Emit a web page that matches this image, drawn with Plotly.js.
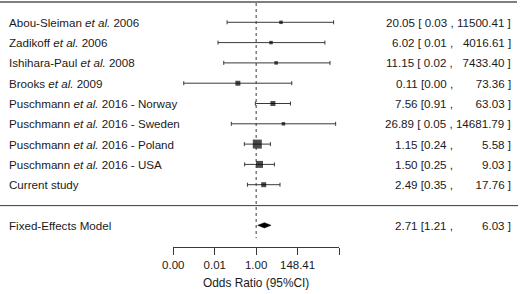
<!DOCTYPE html>
<html>
<head>
<meta charset="utf-8">
<script src="https://cdn.plot.ly/plotly-3.0.1.min.js"></script>
<style>html,body{margin:0;padding:0;background:#fff}#chart{width:520px;height:294px}</style>
</head>
<body>
<div id="chart"></div>
<script>
// ---- data ----
var studies = [
  "Abou-Sleiman <i>et al.</i> 2006",
  "Zadikoff <i>et al.</i> 2006",
  "Ishihara-Paul <i>et al.</i> 2008",
  "Brooks <i>et al.</i> 2009",
  "Puschmann <i>et al.</i> 2016 - Norway",
  "Puschmann <i>et al.</i> 2016 - Sweden",
  "Puschmann <i>et al.</i> 2016 - Poland",
  "Puschmann <i>et al.</i> 2016 - USA",
  "Current study"
];
var oddsRatio = [20.05, 6.02, 11.15, 0.11, 7.56, 26.89, 1.15, 1.50, 2.49];
var ciLower   = [0.03, 0.01, 0.02, 0.00016, 0.91, 0.05, 0.24, 0.25, 0.35];
var ciUpper   = [11500.41, 4016.61, 7433.40, 73.36, 63.03, 14681.79, 5.58, 9.03, 17.76];

var modelLabel = "Fixed-Effects Model";
var modelOR = 2.71, modelLower = 1.21, modelUpper = 6.03;

var tickValsLn = [-10, -5, 0, 5, 10];
var tickLabels = ["0.00", "0.01", "1.00", "148.41", ""];
var axisTitle = "Odds Ratio (95%CI)";

// ---- helpers ----
function fmt(v){ return v.toFixed(2); }
function rowText(est, lo, hi){
  var u = fmt(hi);
  var pad = "";
  for (var k = u.length; k < 8; k++) pad += "\u00a0\u00a0";
  var l = (hi >= 1000 ? "\u00a0" : "") + fmt(lo);
  return fmt(est) + " [" + l + "\u00a0,\u00a0" + pad + u + "\u00a0]";
}

var n = studies.length;
var ys = studies.map(function(_, i){ return -(i + 1); });
var lnOR = oddsRatio.map(Math.log);
var errPlus = oddsRatio.map(function(v, i){ return Math.log(ciUpper[i]) - Math.log(v); });
var errMinus = oddsRatio.map(function(v, i){ return Math.log(v) - Math.log(ciLower[i]); });
var sizes = [3.5, 3.5, 3.5, 5, 5, 3.5, 9, 7, 5];

var yModel = -(n + 2);
var h = 0.13;

var FONT = "Liberation Sans, Arial, Helvetica, sans-serif";
var FS = 11.6;
var TXT = "#1a1a1a";
var LINE = "#3a3a3a";

var traces = [
  {
    x: lnOR, y: ys, type: "scatter", mode: "markers",
    marker: {symbol: "square", size: 1, color: "rgba(0,0,0,0)"},
    error_x: {type: "data", symmetric: false, array: errPlus, arrayminus: errMinus,
              color: LINE, thickness: 1, width: 2},
    hoverinfo: "skip", showlegend: false
  },
  {
    x: lnOR, y: ys, type: "scatter", mode: "markers",
    marker: {symbol: "square", size: sizes, color: "#000", line: {width: 0}},
    hoverinfo: "skip", showlegend: false
  },
  {
    x: [Math.log(modelLower), Math.log(modelOR), Math.log(modelUpper), Math.log(modelOR), Math.log(modelLower)],
    y: [yModel, yModel + h, yModel, yModel - h, yModel],
    type: "scatter", mode: "lines", fill: "toself",
    fillcolor: "#000", line: {color: "#000", width: 0.5},
    hoverinfo: "skip", showlegend: false
  }
];

var XL = 7/520, XR = 512.8/520;
var annotations = [];
studies.forEach(function(s, i){
  annotations.push({xref: "paper", yref: "y", x: XL, y: ys[i], text: s, showarrow: false,
    xanchor: "left", yanchor: "middle", font: {family: FONT, size: FS, color: TXT}});
  annotations.push({xref: "paper", yref: "y", x: XR, y: ys[i], text: rowText(oddsRatio[i], ciLower[i], ciUpper[i]),
    showarrow: false, xanchor: "right", yanchor: "middle", font: {family: FONT, size: FS, color: TXT}});
});
annotations.push({xref: "paper", yref: "y", x: XL, y: yModel, text: modelLabel, showarrow: false,
  xanchor: "left", yanchor: "middle", font: {family: FONT, size: FS, color: TXT}});
annotations.push({xref: "paper", yref: "y", x: XR, y: yModel, text: rowText(modelOR, modelLower, modelUpper),
  showarrow: false, xanchor: "right", yanchor: "middle", font: {family: FONT, size: FS, color: TXT}});

var shapes = [
  {type: "line", xref: "paper", yref: "y", x0: 0, x1: 517/520, y0: 0.0, y1: 0.0, line: {color: "#555", width: 1.3}},
  {type: "line", xref: "paper", yref: "y", x0: 0, x1: 518/520, y0: -(n + 1) - 0.03, y1: -(n + 1) - 0.03, line: {color: LINE, width: 1}},
  {type: "line", xref: "x", yref: "y", x0: 0, x1: 0, y0: -0.05, y1: -11.63, line: {color: LINE, width: 1, dash: "dot"}}
];

var layout = {
  width: 520, height: 294,
  margin: {l: 0, r: 0, t: 0, b: 0},
  paper_bgcolor: "#fff", plot_bgcolor: "#fff",
  showlegend: false,
  xaxis: {
    domain: [173.3/520, 339/520], range: [-10, 10],
    tickvals: tickValsLn, ticktext: tickLabels,
    ticks: "outside", ticklen: 7, tickwidth: 1, tickcolor: LINE,
    showline: true, linecolor: LINE, linewidth: 1, mirror: false,
    showgrid: false, zeroline: false, automargin: false,
    tickfont: {family: FONT, size: 11.5, color: TXT},
    title: {text: axisTitle, font: {family: FONT, size: 11.9, color: TXT}, standoff: 8.5},
    fixedrange: true
  },
  yaxis: {
    domain: [47/294, 1], range: [-12.069, 0.0985],
    visible: false, showgrid: false, zeroline: false, fixedrange: true
  },
  shapes: shapes,
  annotations: annotations
};

Plotly.newPlot("chart", traces, layout, {staticPlot: true, displayModeBar: false});
</script>
</body>
</html>
